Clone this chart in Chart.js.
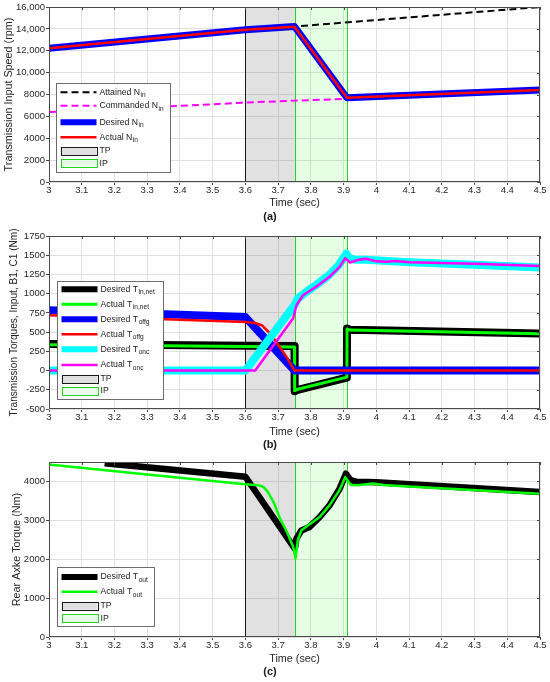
<!DOCTYPE html>
<html>
<head>
<meta charset="utf-8">
<script src="https://cdn.jsdelivr.net/npm/chart.js@4.4.1/dist/chart.umd.min.js"></script>
<style>
  html, body { margin: 0; padding: 0; background: #fff; width: 550px; height: 682px; overflow: hidden; }
  .panel { position: absolute; left: 0; width: 550px; }
</style>
</head>
<body>
<div class="panel" style="top:0;height:224px"><canvas id="chartA"></canvas></div>
<div class="panel" style="top:224px;height:228px"><canvas id="chartB"></canvas></div>
<div class="panel" style="top:452px;height:230px"><canvas id="chartC"></canvas></div>
<script>
// shared time axis and shift phases
const timeTicks = [3.0, 3.1, 3.2, 3.3, 3.4, 3.5, 3.6, 3.7, 3.8, 3.9, 4.0, 4.1, 4.2, 4.3, 4.4, 4.5];
const tpWindow = [3.6, 3.75];
const ipWindow = [3.75, 3.91];

// (a) transmission input speed, rpm
const speedTicks = [0, 2000, 4000, 6000, 8000, 10000, 12000, 14000, 16000];
const attainedT = [3.0, 3.6, 3.75, 4.5];
const attainedN = [12230, 13910, 14215, 16000];
const commandedT = [3.0, 3.2, 3.4, 3.6, 3.75, 3.91];
const commandedN = [6400, 6700, 6960, 7260, 7440, 7600];
const desiredNT = [3.0, 3.6, 3.75, 3.91, 4.5];
const desiredN = [12230, 13910, 14215, 7700, 8410];
const actualNT = [3.0, 3.6, 3.75, 3.91, 4.5];
const actualN = [12230, 13910, 14200, 7710, 8410];

// (b) transmission torques, Nm
const torqueTicks = [-500, -250, 0, 250, 500, 750, 1000, 1250, 1500, 1750];
const inNetDesT = [3.0, 3.6, 3.75, 3.7505, 3.76, 3.91, 3.9105, 3.92, 4.5];
const inNetDes = [345, 322, 320, -268, -250, -92, 548, 530, 482];
const inNetActT = [3.0, 3.6, 3.75, 3.7505, 3.76, 3.91, 3.9105, 3.92, 4.5];
const inNetAct = [336, 314, 305, -262, -244, -86, 540, 526, 478];
const offgDesT = [3.0, 3.6, 3.75, 4.5];
const offgDes = [785, 695, 0, 0];
const offgActT = [3.0, 3.6, 3.63, 3.65, 3.675, 3.7, 3.725, 3.75, 4.5];
const offgAct = [718, 630, 618, 590, 485, 335, 180, 0, 0];
const oncDesT = [3.0, 3.6, 3.75, 3.76, 3.785, 3.815, 3.855, 3.885, 3.908, 3.918, 3.935, 3.97, 4.1, 4.3, 4.5];
const oncDes = [0, 0, 850, 935, 1020, 1110, 1240, 1370, 1520, 1465, 1440, 1440, 1410, 1375, 1340];
const oncActT = [3.0, 3.63, 3.746, 3.756, 3.776, 3.816, 3.857, 3.887, 3.905, 3.92, 3.945, 3.97, 4.0, 4.03, 4.06, 4.1, 4.3, 4.5];
const oncAct = [0, 0, 680, 850, 980, 1090, 1220, 1345, 1460, 1405, 1440, 1455, 1420, 1415, 1425, 1410, 1390, 1360];

// (c) rear axle torque, Nm
const axleTicks = [0, 1000, 2000, 3000, 4000];
const outDesT = [3.17, 3.6, 3.751, 3.756, 3.771, 3.796, 3.827, 3.857, 3.887, 3.907, 3.92, 3.94, 4.0, 4.5];
const outDes = [4470, 4120, 2270, 2530, 2740, 2830, 3085, 3385, 3800, 4200, 4040, 3990, 3980, 3730];
const outActT = [3.0, 3.3, 3.6, 3.64, 3.655, 3.668, 3.686, 3.706, 3.727, 3.746, 3.753, 3.76, 3.771, 3.792, 3.827, 3.857, 3.887, 3.905, 3.922, 3.943, 3.97, 3.99, 4.02, 4.1, 4.5];
const outAct = [4436, 4180, 3925, 3905, 3860, 3740, 3470, 3043, 2700, 2315, 2018, 2487, 2744, 2872, 3085, 3385, 3769, 4110, 3915, 3900, 3930, 3945, 3910, 3870, 3684];

Chart.defaults.font.family = '"Liberation Sans", Arial, Helvetica, sans-serif';
Chart.defaults.color = '#262626';

const FONT = '"Liberation Sans", Arial, Helvetica, sans-serif';
const frameColor = '#4a4a4a';
const gridColor = '#e0e0e0';

function pts(ts, vs) {
  return ts.map((t, i) => ({ x: t, y: vs[i] }));
}

function line(label, sub, ts, vs, color, width, dash) {
  return {
    label, sub,
    data: pts(ts, vs),
    borderColor: color,
    backgroundColor: color,
    borderWidth: width,
    borderDash: dash || [],
    borderJoinStyle: 'round',
    pointRadius: 0,
    tension: 0,
    fill: false,
    clip: 0
  };
}

const phases = [
  { w: tpWindow, label: 'TP', fill: 'rgba(120,120,120,0.22)', edge: '#1a1a1a', key: '#e0e0e0' },
  { w: ipWindow, label: 'IP', fill: 'rgba(0,255,0,0.1)', edge: '#22d322', key: '#e8fbe8' }
];

// shift phase patches, axes box and the legend (with subscripts)
const panelPlugin = {
  id: 'panel',
  beforeDatasetsDraw(chart) {
    const { ctx, chartArea: a, scales: { x } } = chart;
    ctx.save();
    phases.forEach(p => {
      const x0 = Math.round(x.getPixelForValue(p.w[0])) + 0.5;
      const x1 = Math.round(x.getPixelForValue(p.w[1])) + 0.5;
      ctx.fillStyle = p.fill;
      ctx.fillRect(x0, a.top, x1 - x0, a.bottom - a.top);
      ctx.strokeStyle = p.edge;
      ctx.lineWidth = 1;
      ctx.strokeRect(x0, a.top + 0.5, x1 - x0, a.bottom - a.top - 1);
    });
    ctx.restore();
  },
  afterDatasetsDraw(chart) {
    const { ctx, chartArea: a, scales: { x, y } } = chart;
    ctx.save();
    ctx.strokeStyle = frameColor;
    ctx.lineWidth = 1;
    ctx.strokeRect(a.left + 0.5, a.top + 0.5, a.right - a.left - 1, a.bottom - a.top - 1);
    ctx.beginPath();
    x.ticks.forEach(t => {
      const px = Math.round(x.getPixelForValue(t.value)) + 0.5;
      ctx.moveTo(px, a.top); ctx.lineTo(px, a.top + 3);
    });
    y.ticks.forEach(t => {
      const py = Math.round(y.getPixelForValue(t.value)) + 0.5;
      ctx.moveTo(a.right, py); ctx.lineTo(a.right - 3, py);
    });
    ctx.stroke();
    ctx.restore();
  },
  afterDraw(chart, args, opts) {
    const { ctx } = chart;
    const [bx, by, bw, bh] = opts.box;
    ctx.save();
    ctx.fillStyle = '#fff';
    ctx.fillRect(bx, by, bw, bh);
    ctx.strokeStyle = '#6b6b6b';
    ctx.lineWidth = 1;
    ctx.strokeRect(bx + 0.5, by + 0.5, bw, bh);
    const sx0 = bx + 4.5, sx1 = bx + 40.5, tx = bx + 43.5;
    const rows = chart.data.datasets.map(d => ({ label: d.label, sub: d.sub, ds: d }))
      .concat(phases.map(p => ({ label: p.label, patch: p })));
    rows.forEach((r, i) => {
      const ry = opts.rows[i];
      if (r.patch) {
        ctx.fillStyle = r.patch.key;
        ctx.fillRect(sx0, ry - 4, sx1 - sx0, 8);
        ctx.strokeStyle = r.patch.edge;
        ctx.setLineDash([]);
        ctx.strokeRect(Math.round(sx0) + 0.5, Math.round(ry - 4) + 0.5, sx1 - sx0, 8);
      } else {
        ctx.strokeStyle = r.ds.borderColor;
        ctx.lineWidth = Math.min(r.ds.borderWidth, 6);
        ctx.setLineDash(r.ds.borderDash);
        ctx.beginPath();
        ctx.moveTo(sx0, ry); ctx.lineTo(sx1, ry);
        ctx.stroke();
        ctx.setLineDash([]);
        ctx.lineWidth = 1;
      }
      ctx.fillStyle = '#1a1a1a';
      ctx.textBaseline = 'middle';
      ctx.textAlign = 'left';
      ctx.font = '8.7px ' + FONT;
      ctx.fillText(r.label, tx, ry);
      if (r.sub) {
        const w = ctx.measureText(r.label).width;
        ctx.font = '6.6px ' + FONT;
        ctx.fillText(r.sub, tx + w + 0.5, ry + 3.3);
      }
    });
    ctx.restore();
  }
};

function makePanel(id, o) {
  const th = 13.2;
  const axisH = o.tagY - th / 2 - o.plotBottom;
  const timePad = Math.max(0, (o.tagY - th / 2) - o.timeY - 6.48);
  const yLine = o.yTitleSize * 1.2;
  return new Chart(document.getElementById(id), {
    type: 'line',
    data: { datasets: o.datasets.map((d, i) => Object.assign(d, { order: -i })) },
    plugins: [panelPlugin],
    options: {
      responsive: true,
      maintainAspectRatio: false,
      animation: false,
      events: [],
      layout: {
        autoPadding: false,
        padding: { top: o.plotTop, right: 10, left: 0, bottom: o.height - o.tagY - th / 2 }
      },
      scales: {
        x: {
          type: 'linear',
          min: 3, max: 4.5,
          afterFit: s => { s.height = axisH; },
          afterBuildTicks: s => { s.ticks = timeTicks.map(v => ({ value: v })); },
          ticks: {
            padding: 0,
            font: { size: 9.5 },
            color: '#262626',
            maxRotation: 0,
            autoSkip: false,
            callback: v => String(Math.round(v * 10) / 10)
          },
          grid: { color: gridColor, tickColor: frameColor, tickLength: 3 },
          border: { display: false },
          title: { display: true, text: 'Time (sec)', font: { size: 10.8 }, color: '#262626', padding: { top: 0, bottom: timePad } }
        },
        y: {
          type: 'linear',
          min: o.yMin, max: o.yMax,
          afterFit: s => { s.width = 49; },
          afterBuildTicks: s => { s.ticks = o.yTicks.map(v => ({ value: v })); },
          ticks: {
            padding: 1,
            font: { size: 9.5 },
            color: '#262626',
            autoSkip: false,
            callback: o.yFormat || (v => String(v))
          },
          grid: { color: gridColor, tickColor: frameColor, tickLength: 3 },
          border: { display: false },
          title: { display: true, text: o.yTitle, font: { size: o.yTitleSize }, color: '#262626', padding: { top: o.yTitleX - yLine / 2, bottom: 0 } }
        }
      },
      plugins: {
        legend: { display: false },
        tooltip: { enabled: false },
        title: { display: true, position: 'bottom', text: o.tag, font: { size: 11, weight: 'bold' }, color: '#1a1a1a', padding: 0 },
        panel: { box: o.legendBox, rows: o.legendRows }
      }
    }
  });
}

makePanel('chartA', {
  height: 224, plotTop: 7, plotBottom: 182, timeY: 203, tagY: 217, tag: '(a)',
  yMin: 0, yMax: 16000, yTicks: speedTicks, yTitleX: 9, yTitleSize: 10.8,
  yTitle: 'Transmission Input Speed (rpm)',
  yFormat: v => (v >= 10000 ? v.toLocaleString('en-US') : String(v)),
  legendBox: [56, 83, 114, 89],
  legendRows: [92.3, 105.7, 122.3, 137.3, 151, 163.3],
  datasets: [
    line('Attained N', 'in', attainedT, attainedN, '#000000', 2, [7, 4]),
    line('Commanded N', 'in', commandedT, commandedN, '#ff00ff', 2, [7, 4]),
    line('Desired N', 'in', desiredNT, desiredN, '#0000ff', 7),
    line('Actual N', 'in', actualNT, actualN, '#ff0000', 2.5)
  ]
});

makePanel('chartB', {
  height: 228, plotTop: 12, plotBottom: 185, timeY: 208, tagY: 221, tag: '(b)',
  yMin: -500, yMax: 1750, yTicks: torqueTicks, yTitleX: 14, yTitleSize: 10.1,
  yTitle: 'Transmission Torques, Input, B1, C1 (Nm)',
  legendBox: [57, 57, 106, 118],
  legendRows: [65.3, 80.3, 95.3, 110.3, 125.3, 141, 155, 166.7],
  datasets: [
    line('Desired T', 'in,net', inNetDesT, inNetDes, '#000000', 8),
    line('Actual T', 'in,net', inNetActT, inNetAct, '#00ff00', 3),
    line('Desired T', 'offg', offgDesT, offgDes, '#0000ff', 8),
    line('Actual T', 'offg', offgActT, offgAct, '#ff0000', 2.5),
    line('Desired T', 'onc', oncDesT, oncDes, '#00ffff', 8),
    line('Actual T', 'onc', oncActT, oncAct, '#ff00ff', 2.5)
  ]
});

makePanel('chartC', {
  height: 230, plotTop: 10, plotBottom: 185, timeY: 207, tagY: 220, tag: '(c)',
  yMin: 0, yMax: 4500, yTicks: axleTicks, yTitleX: 17, yTitleSize: 10.8,
  yTitle: 'Rear Axke Torque (Nm)',
  legendBox: [57, 115, 97, 59],
  legendRows: [125, 139.7, 153.7, 166.3],
  datasets: [
    line('Desired T', 'out', outDesT, outDes, '#000000', 6.5),
    line('Actual T', 'out', outActT, outAct, '#00ff00', 2.5)
  ]
});
</script>
</body>
</html>
